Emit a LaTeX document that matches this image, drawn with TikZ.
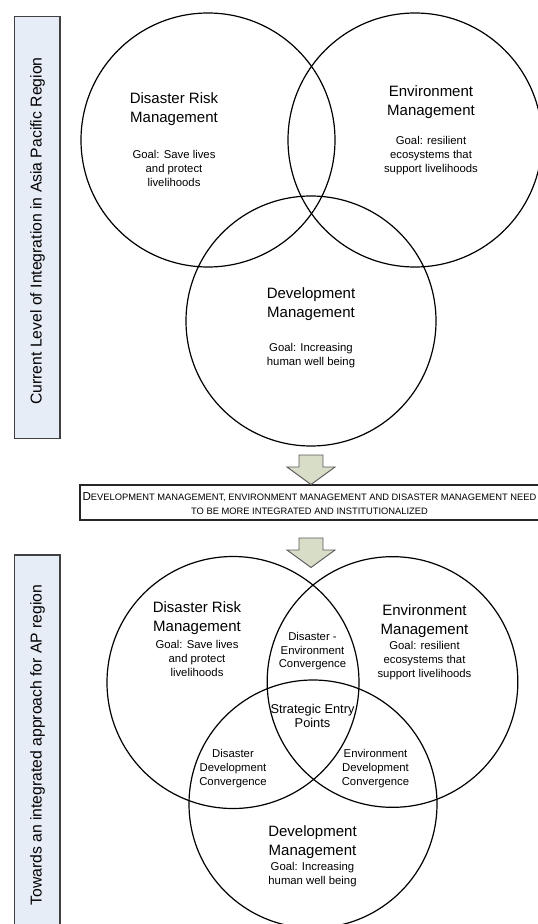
\documentclass[tikz,border=0pt]{standalone}
\usepackage{fontspec}
\setmainfont{Liberation Sans}
\definecolor{sidefill}{RGB}{231,237,246}
\definecolor{arrowfill}{RGB}{216,221,200}
\begin{document}
\begin{tikzpicture}[x=0.75pt,y=-0.75pt,
  venn/.style={circle,draw=black,line width=0.9pt,inner sep=0pt},
  title/.style={align=center,font=\fontsize{11.25}{14.6}\selectfont},
  goal/.style={align=center,font=\fontsize{8.5}{10.5}\selectfont},
  conv/.style={align=center,font=\fontsize{8.5}{10.3}\selectfont},
  sep/.style={align=center,font=\fontsize{9.6}{10.8}\selectfont},
  side/.style={draw=black!75,fill=sidefill,line width=0.9pt},
  sidetext/.style={rotate=90,font=\fontsize{11.8}{14}\selectfont},
  msgbox/.style={draw=black!85,line width=0.9pt},
  blockarrow/.style={draw=black!65,fill=arrowfill,line width=0.7pt,line join=miter}]
\useasboundingbox (0,0) rectangle (537,924);

% sidebars
\draw[side] (14.5,16.5) rectangle (60,438.5);
\node[sidetext] (s1) at (37.5,231) {Current Level of Integration in Asia Pacific Region};
\draw[side] (14.5,555) rectangle (60,935);
\node[sidetext] (s2) at (37.5,745) {Towards an integrated approach for AP region};

% top venn
\node[venn,minimum size=190.5pt] (a1) at (208,140) {};
\node[venn,minimum size=190.5pt] (b1) at (415,140) {};
\node[venn,minimum size=187.5pt] (c1) at (311,321) {};

\node[title] (a1t) at (174,109) {Disaster Risk\\Management};
\node[goal]  (a1g) at (174,168) {Goal: Save lives\\and protect\\livelihoods};
\node[title] (b1t) at (431,102) {Environment\\Management};
\node[goal]  (b1g) at (431,156) {Goal: resilient\\ecosystems that\\support livelihoods};
\node[title] (c1t) at (311,304) {Development\\Management};
\node[goal]  (c1g) at (311,355.5) {Goal: Increasing\\human well being};

% message box
\draw[msgbox] (80,485) rectangle (540,520);
\node[align=center,font=\fontsize{7}{10.5}\selectfont] (msg) at (309.5,503.5)
  {{\fontsize{8.7}{10.5}\selectfont D}EVELOPMENT MANAGEMENT, ENVIRONMENT MANAGEMENT AND DISASTER MANAGEMENT NEED\\TO BE MORE INTEGRATED AND INSTITUTIONALIZED};

% arrow 1
\draw[blockarrow] (299,455) -- (323,455) -- (323,467) -- (335,467) -- (311,484.5) -- (287,467) -- (299,467) -- cycle;

% bottom venn
\node[venn,minimum size=189pt] (a2) at (233,682.5) {};
\node[venn,minimum size=188pt] (b2) at (392.5,682) {};
\node[venn,minimum size=186pt] (c2) at (313,804) {};

\node[title] (a2t) at (197,618) {Disaster Risk\\Management};
\node[goal]  (a2g) at (197,658.5) {Goal: Save lives\\and protect\\livelihoods};
\node[title] (b2t) at (424.5,621) {Environment\\Management};
\node[goal]  (b2g) at (424.5,660.5) {Goal: resilient\\ecosystems that\\support livelihoods};
\node[conv]  (ab) at (312.5,651.3) {Disaster -\\Environment\\Convergence};
\node[sep]   (abc) at (312.5,716) {Strategic Entry\\Points};
\node[conv]  (ac) at (233,768.5) {Disaster\\Development\\Convergence};
\node[conv]  (bc) at (375.5,768.5) {Environment\\Development\\Convergence};
\node[title] (c2t) at (312.5,842) {Development\\Management};
\node[goal]  (c2g) at (312.5,875) {Goal: Increasing\\human well being};

% arrow 2
\draw[blockarrow] (299,538) -- (323,538) -- (323,550) -- (335,550) -- (311,567.5) -- (287,550) -- (299,550) -- cycle;
\end{tikzpicture}
\end{document}
